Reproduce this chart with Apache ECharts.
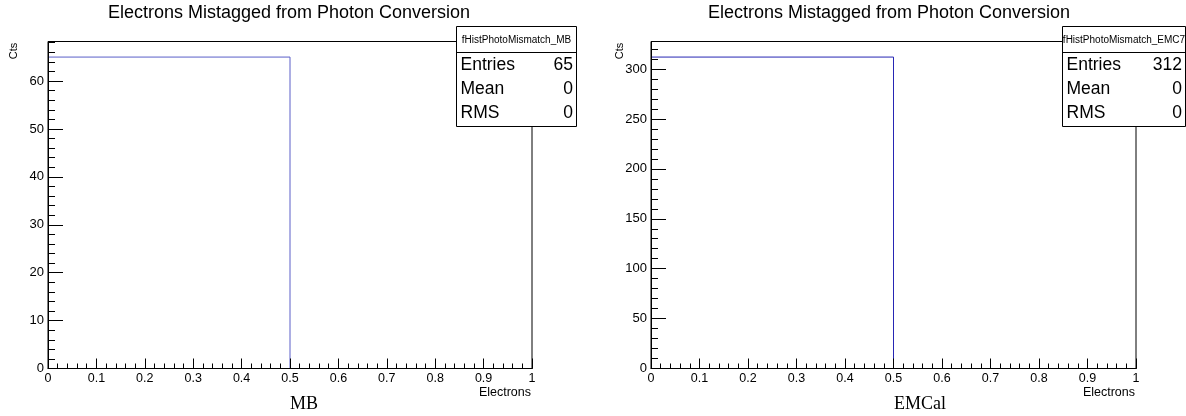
<!DOCTYPE html>
<html>
<head>
<meta charset="utf-8">
<script src="https://cdn.jsdelivr.net/npm/echarts@6/dist/echarts.min.js"></script>
<style>
html,body{margin:0;padding:0;background:#fff;}
#c{width:1186px;height:416px;}
</style>
</head>
<body>
<div id="c"></div>
<script>
// ---- data ----
const binEdges = [0, 0.5, 1];
const mbCounts = [65, 0];
const emcCounts = [312, 0];
const panelTitle = 'Electrons Mistagged from Photon Conversion';
const mbStats = {name: 'fHistPhotoMismatch_MB', entries: 65, mean: 0, rms: 0};
const emcStats = {name: 'fHistPhotoMismatch_EMC7', entries: 312, mean: 0, rms: 0};
const mbYMax = 68.25, emcYMax = 327.6;
const mbYStep = 10, mbYMinor = 2, emcYStep = 50, emcYMinor = 10;
const xStep = 0.1, xMinor = 0.02;
const captions = ['MB', 'EMCal'];

function outline(edges, counts) {
  const pts = [];
  for (let i = 0; i < counts.length; i++) {
    pts.push([edges[i], counts[i]]);
    pts.push([edges[i + 1], counts[i]]);
  }
  return pts;
}

const FONT = '"Liberation Sans", Arial, Helvetica, sans-serif';
const chart = echarts.init(document.getElementById('c'), null, {renderer: 'canvas'});

const frames = [
  {left: 48, top: 41.5, width: 484, height: 327},
  {left: 651, top: 41.5, width: 485, height: 327}
];
// grids 0,1: main frames; grids 2,3: overlay for minor ticks
const grids = [
  Object.assign({show: true, borderColor: '#000', borderWidth: 1, backgroundColor: 'transparent'}, frames[0]),
  Object.assign({show: true, borderColor: '#000', borderWidth: 1, backgroundColor: 'transparent'}, frames[1]),
  Object.assign({show: false}, frames[0]),
  Object.assign({show: false}, frames[1])
];

function xMain(gi) {
  return {type: 'value', gridIndex: gi, min: 0, max: 1, interval: xStep, z: 5,
    axisLine: {show: true, lineStyle: {color: '#000', width: 1}},
    axisTick: {show: true, inside: true, length: 10, lineStyle: {color: '#000'}},
    axisLabel: {show: true, margin: 4, color: '#000', fontFamily: FONT, fontSize: 12.5,
      formatter: v => (v === 0 ? '0' : v === 1 ? '1' : v.toFixed(1))},
    splitLine: {show: false}};
}
function xMinorAxis(gi) {
  return {type: 'value', gridIndex: gi, min: 0, max: 1, interval: xMinor, z: 5,
    axisLine: {show: false},
    axisTick: {show: true, inside: true, length: 5, lineStyle: {color: '#000'}},
    axisLabel: {show: false}, splitLine: {show: false}};
}
function yMain(gi, max, step) {
  return {type: 'value', gridIndex: gi, min: 0, max: max, interval: step, z: 5,
    axisLine: {show: true, lineStyle: {color: '#000', width: 1}},
    axisTick: {show: true, inside: true, length: 15, lineStyle: {color: '#000'}},
    axisLabel: {show: true, margin: 4, color: '#000', fontFamily: FONT, fontSize: 13, showMaxLabel: false},
    splitLine: {show: false}};
}
function yMinorAxis(gi, max, minor) {
  return {type: 'value', gridIndex: gi, min: 0, max: max, interval: minor, z: 5,
    axisLine: {show: false},
    axisTick: {show: true, inside: true, length: 7, lineStyle: {color: '#000'}},
    axisLabel: {show: false}, splitLine: {show: false}};
}

function statsBox(s, x0, w) {
  const y0 = 26.5, h = 100, fs = 17.5;
  const rows = [['Entries', s.entries, 65], ['Mean', s.mean, 89.5], ['RMS', s.rms, 113.5]];
  const els = [
    {type: 'rect', z: 100, shape: {x: x0, y: y0, width: w, height: h},
     style: {fill: '#fff', stroke: '#000', lineWidth: 1}},
    {type: 'line', z: 101, shape: {x1: x0, y1: 52.5, x2: x0 + w, y2: 52.5},
     style: {stroke: '#000', lineWidth: 1}},
    {type: 'text', z: 101, x: x0 + w / 2, y: 40,
     style: {text: s.name, fontFamily: FONT, fontSize: 10, fill: '#000', align: 'center', verticalAlign: 'middle'}}
  ];
  rows.forEach(r => {
    els.push({type: 'text', z: 101, x: x0 + 4, y: r[2],
      style: {text: r[0], fontFamily: FONT, fontSize: fs, fill: '#000', align: 'left', verticalAlign: 'middle'}});
    els.push({type: 'text', z: 101, x: x0 + w - 3.5, y: r[2],
      style: {text: String(r[1]), fontFamily: FONT, fontSize: fs, fill: '#000', align: 'right', verticalAlign: 'middle'}});
  });
  return els;
}

function panelTexts(gx, gw, titleX, ctsX) {
  return [
    {type: 'text', x: titleX, y: 13,
     style: {text: panelTitle, fontFamily: FONT, fontSize: 18, fill: '#000', align: 'center', verticalAlign: 'middle'}},
    {type: 'text', x: gx + gw - 1, y: 393,
     style: {text: 'Electrons', fontFamily: FONT, fontSize: 12.5, fill: '#000', align: 'right', verticalAlign: 'middle'}},
    {type: 'text', x: ctsX, y: 51, rotation: Math.PI / 2,
     style: {text: 'Cts', fontFamily: FONT, fontSize: 11, fill: '#000', align: 'center', verticalAlign: 'middle'}}
  ];
}

const option = {
  animation: false,
  backgroundColor: '#fff',
  grid: grids,
  xAxis: [xMain(0), xMain(1), xMinorAxis(2), xMinorAxis(3)],
  yAxis: [yMain(0, mbYMax, mbYStep), yMain(1, emcYMax, emcYStep),
          yMinorAxis(2, mbYMax, mbYMinor), yMinorAxis(3, emcYMax, emcYMinor)],
  series: [
    {type: 'line', xAxisIndex: 0, yAxisIndex: 0, data: outline(binEdges, mbCounts),
     showSymbol: false, symbol: 'none', lineStyle: {color: '#5a5ec8', width: 1}, z: 1},
    {type: 'line', xAxisIndex: 1, yAxisIndex: 1, data: outline(binEdges, emcCounts),
     showSymbol: false, symbol: 'none', lineStyle: {color: '#2626b4', width: 1}, z: 1}
  ],
  graphic: [
    ...panelTexts(48, 484, 289, 14),
    ...panelTexts(651, 485, 889, 620),
    {type: 'text', x: 290, y: 404,
     style: {text: captions[0], fontFamily: '"Liberation Serif", "Times New Roman", serif', fontSize: 18, fill: '#000', align: 'left', verticalAlign: 'middle'}},
    {type: 'text', x: 894, y: 404,
     style: {text: captions[1], fontFamily: '"Liberation Serif", "Times New Roman", serif', fontSize: 18, fill: '#000', align: 'left', verticalAlign: 'middle'}},
    ...statsBox(mbStats, 456.5, 120),
    ...statsBox(emcStats, 1062.5, 123)
  ]
};
chart.setOption(option);
</script>
</body>
</html>
